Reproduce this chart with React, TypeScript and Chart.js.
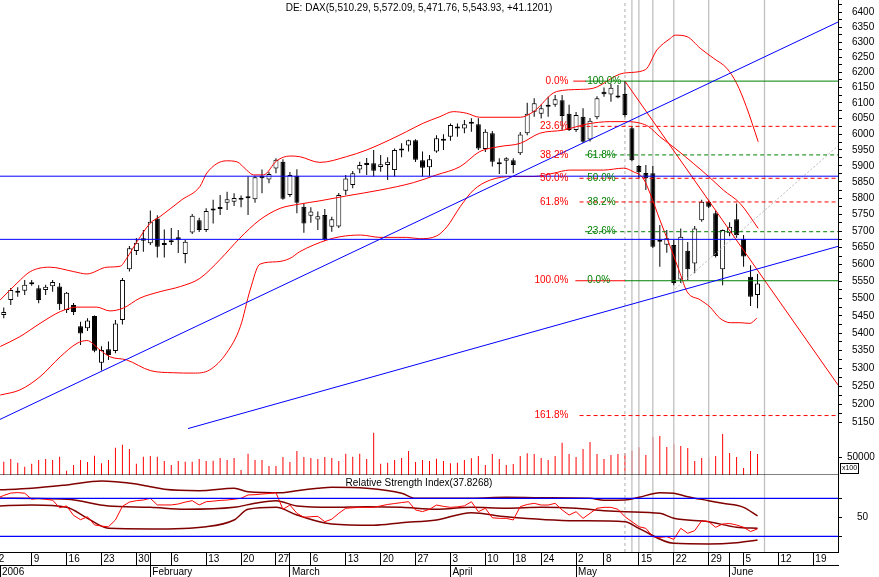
import React, { useEffect, useRef } from 'react';
import { Chart, registerables } from 'chart.js';

Chart.register(...registerables);

const FONT = '"Liberation Sans", Arial, sans-serif';
const X_MIN = 0.46;
const X_MAX = 120.53;

const TITLE = 'DE: DAX(5,510.29, 5,572.09, 5,471.76, 5,543.93, +41.1201)';
const RSI_TITLE = 'Relative Strength Index(37.8268)';

// trading day index 0 = 2 Jan 2006 ... 109 = 7 Jun 2006
const openP = [5410,5452,5496,5522,5523,5546,5530,5525,5536,5535, 5467,5481,5420,5414,5449,5316,5354,5349,5438,5586, 5640,5678,5663,5738,5663,5670,5681,5631,5696,5733, 5703,5762,5770,5786,5789,5797,5805,5797,5869,5858, 5892,5913,5810,5869,5774,5746,5735,5749,5713,5714, 5823,5841,5889,5908,5908,5897,5903,5887,5948,5964, 5981,5918,5896,5945,5982,5992,6021,6018,6033,6032, 5953,6003,5908,5916,5918,5940,6003,6072,6065,6094, 6094,6109,6065,6013,6056,5983,6054,6136,6127,6121, 6129,6019,5900,5878,5877,5673,5659,5658,5556,5641, 5603,5733,5789,5754,5586,5693,5736,5676,5564,5510.29];
const highP = [5455,5474,5531,5533,5554,5554,5539,5540,5554,5545, 5519,5487,5433,5443,5451,5363,5376,5438,5560,5655, 5679,5703,5762,5748,5705,5709,5703,5673,5752,5740, 5769,5795,5810,5820,5815,5808,5867,5869,5889,5882, 5924,5921,5881,5890,5784,5772,5759,5767,5743,5816, 5872,5884,5913,5925,5950,5934,5927,5955,5971,5982, 5984,5945,5934,5997,6000,6034,6034,6045,6051,6051, 6016,6010,5924,5927,5924,6007,6101,6115,6094,6120, 6126,6126,6094,6071,6083,6052,6122,6150,6162,6158, 6171,6026,5903,5903,5900,5718,5703,5673,5708,5667, 5715,5795,5795,5762,5705,5727,5784,5688,5598,5572.09];
const lowP = [5400,5443,5481,5505,5510,5537,5486,5510,5520,5467, 5458,5452,5366,5406,5346,5294,5324,5343,5425,5579, 5628,5638,5658,5621,5621,5658,5634,5604,5691,5697, 5697,5723,5749,5764,5776,5772,5749,5786,5815,5846, 5877,5795,5804,5754,5695,5725,5703,5670,5698,5709, 5810,5831,5877,5872,5867,5882,5856,5867,5927,5945, 5912,5867,5869,5941,5950,5979,5992,6003,6008,5950, 5944,5898,5875,5875,5877,5934,5997,6056,6050,6056, 6088,6013,6010,6007,5972,5977,6048,6120,6104,6115, 6054,5915,5862,5825,5649,5593,5635,5539,5545,5554, 5574,5728,5770,5621,5539,5684,5680,5593,5478,5471.76];
const closeP = [5450,5461,5525,5517,5540,5542,5496,5534,5548,5483, 5517,5461,5399,5436,5350,5352,5338,5428,5554,5648, 5665,5671,5728,5653,5658,5666,5673,5668,5746,5703, 5761,5766,5767,5797,5801,5795,5800,5865,5862,5875, 5919,5798,5872,5786,5723,5759,5745,5675,5736,5810, 5861,5877,5903,5903,5885,5905,5913,5950,5953,5981, 5919,5894,5921,5987,5979,6029,6018,6032,6037,5955, 6008,5913,5905,5924,5903,5999,6065,6099,6083,6088, 6112,6058,6013,6061,5976,6043,6115,6128,6149,6118, 6061,5918,5880,5862,5653,5668,5678,5545,5683,5586, 5708,5789,5774,5625,5703,5713,5688,5624,5505,5543.93];
const volume = [40000,38500,46200,35600,24100,32700,43300,46200,43300,53000, 12500,28900,43300,37600,55900,33700,43300,79000,87600,75100, 32700,53000,54900,53000,40400,28900,40400,38500,38500,46200, 40400,41400,49100,43300,49100,14400,61600,43300,43300,26000, 26000,52000,37600,69300,52000,49100,46200,52000,49100,40400, 61600,53000,61600,46200,122300,32700,35600,43300,49100,69300, 37600,43300,40400,47200,40400,33700,35600,43300,48200,54900, 28900,60700,46200,28900,31800,54900,62600,60700,49100,43300, 54900,93400,60700,52000,75100,95300,60700,46200,57800,60700, 62600,70000,80000,57800,110000,112700,80900,90000,83800,78000, 40400,49100,50000,54900,118400,63600,52000,20200,69300,60700];
const rsiValues = [70,73,75.5,76,75.3,69,70,69,68,60, 62,52,47.5,50.6,42,40.8,40,47.2,61.5,66, 67.5,68.2,70,63,63,63,64,66,67.5,63, 66.4,67,67.8,68.2,69,70,73.5,73.8,74.5,75, 75.9,58.4,62.9,54.2,50,50.6,51,45.4,48,54.2, 59.5,60,60.5,60.5,60.5,62,63.5,64.5,65.5,66.4, 57.7,56,58.4,62.9,61.5,60.5,61,62,66.4,55.9, 59.5,49.5,48.9,48.9,47.2,61.2,63.5,64.7,62.9,62.9, 64.7,57.7,52.4,55.9,48.9,54.2,59.5,60.5,60.5,58.4, 50.6,45.4,40.1,38.4,29.6,28.9,29.6,26.8,38.4,33.2, 36,46.4,45.4,39.5,42.9,43.5,41.9,39.5,35,37.83];

// Bollinger bands on price (read at sampled day positions)
const bbUpperDay = [0.5,2.9,4.8,7.6,11,12.9,15.8,17.7,18.6,20.1,22,23.4,26.5,29.1,30.1,32.9,34.4,35.8,36.8,38.2,40.1,42,43.4,46.3,50.1,53,56.3,58.7,61.1,63.5,65.4,67.3,69.2,75,76.9,80.2,83.6,85.5,89.8,92.9,94.6,96.5,97.2,98.9,100.8,102.7,104.6,106,107.4,109.1];
const bbUpper = [5496,5545,5579,5592,5579,5572,5592,5595,5618,5668,5724,5744,5795,5836,5878,5916,5913,5887,5872,5872,5916,5931,5929,5911,5929,5950,5982,6008,6035,6056,6072,6067,6054,6054,6072,6137,6144,6148,6197,6208,6274,6312,6323,6318,6279,6246,6213,6164,6088,5976];
const bbMidDay = [0.5,3.3,6.2,9.1,11.5,14.3,16.2,18.1,20.5,23.4,26.3,29.1,32,34.8,37.7,40.6,43.4,46.3,50.1,54.9,59.7,63,66.4,69.2,72.1,75,77.8,81.2,84.5,87.9,90.3,92.2,93.4,95,97.2,99.8,102,104.1,106.5,109.1];
const bbMid = [5362,5390,5428,5462,5475,5475,5464,5472,5501,5520,5535,5559,5615,5678,5734,5769,5782,5792,5807,5825,5848,5872,5898,5945,5961,5971,6003,6013,6032,6040,6040,6035,6024,5992,5955,5908,5867,5825,5784,5708];
const bbLowerDay = [0.5,3.3,6.2,9.1,11.5,12.9,14.8,16.2,18.6,22,25.3,28.2,30.5,32.9,34.9,36.3,37.7,40.1,42,43.4,45.4,47.3,49.2,52.1,54.9,58.7,60.6,63,64.5,66.4,68.3,70.7,74,76.9,79.7,82.1,86.9,89.8,91.2,92.6,93.6,95,96.5,97.9,98.9,100.8,102.2,103.6,105.1,106.5,107.9,108.9];
const bbLower = [5226,5240,5277,5333,5371,5379,5352,5333,5324,5294,5288,5287,5296,5343,5419,5525,5601,5608,5618,5638,5658,5673,5683,5688,5681,5681,5677,5685,5713,5774,5825,5856,5867,5867,5877,5887,5887,5893,5882,5862,5815,5734,5653,5574,5520,5496,5475,5443,5430,5430,5428,5443];

// bands on the RSI
const rsiUpDay = [0,5,10,15,17,20,22,24,29,34,36,41,43,46,48,53,58,60,64,68,73,78,85,87,90,92,95,97,99,102,104,107,109];
const rsiUp = [78.7,80.5,84,88.2,87.5,85,82.2,79.5,78,80.5,76.9,75.9,78,80.5,81.6,80.5,75.3,70,70,70,71,70.6,70,67.9,68.2,71,75.9,75.3,71.7,67.5,64.7,60.5,51.4];
const rsiMidDay = [0,10,16,22,27,34,37,40,43,48,53,58,63,68,73,78,83,87,90,95,97,102,106,109];
const rsiMid = [70,68.9,61.9,60.5,58.4,60.5,64.7,67.5,61.9,60.5,61.2,60.5,58.4,60.5,59.5,60.5,59.5,57,55.9,54.2,48.9,45.4,39.5,38.4];
const rsiLowDay = [0,5,10,13,16,22,30,34,36,40,43,48,54,58,63,68,73,83,90,92,97,102,106,109];
const rsiLow = [61.9,62.9,60.5,48.9,38.4,37.7,40.1,47.2,58.4,60.5,52.4,42.9,41.6,44.3,47.2,54.8,50.6,46.4,45.4,38.4,22.6,21.9,23.3,26.1];
const rsiLevels = [70, 30];

// Fibonacci levels
const redFibLabels = ['0.0%', '23.6%', '38.2%', '50.0%', '61.8%', '100.0%', '161.8%'];
const redFibValues = [6171, 6025, 5934.5, 5861.5, 5788.5, 5552, 5169.5];
const greenFibLabels = ['100.0%', '61.8%', '50.0%', '38.2%', '23.6%', '0.0%'];
const greenFibValues = [6171, 5934.5, 5861.5, 5788.5, 5698, 5552];
const redDashedLevels = [6025, 5861.5, 5788.5, 5169.5];
const greenDashedLevels = [5934.5, 5698];
const fibTimeDays = [90, 91, 92, 94, 97, 102, 110];

// trend lines (day, price)
const blueTrend1 = [[X_MIN, 5159], [X_MAX, 6367]];
const blueTrend2 = [[27.4, 5134], [X_MAX, 5654]];
const blueLevels = [5868, 5675];
const redTrend = [[90, 6171], [X_MAX, 5254]];
const grayTrend = [[97.2, 5528], [X_MAX, 5963]];

// axes labels
const priceLabels = [5150,5200,5250,5300,5350,5400,5450,5500,5550,5600,5650,5700,5750,5800,5850,5900,5950,6000,6050,6100,6150,6200,6250,6300,6350,6400];
const dayTickDays = [0,5,10,15,20,22,25,30,35,40,42,45,50,55,60,65,70,74,78,83,87,92,97,102,105,107,112,117];
const dayTickLabels = ['2','9','16','23','30','','6','13','20','27','','6','13','20','27','3','10','18','24','2','8','15','22','29','','5','12','19'];
const monthTickDays = [X_MIN, 22, 42, 65, 83, 105];
const monthLabels = ['2006', 'February', 'March', 'April', 'May', 'June'];

const pts = (xs: number[], ys: number[]) => xs.map((x, k) => ({ x, y: ys[k] }));
const seg = (a: number[][]) => a.map(([x, y]) => ({ x, y }));
const hline = (x0: number, x1: number, v: number) => [{ x: x0, y: v }, { x: x1, y: v }];

function lineDs(data: any[], color: string, width: number, yAxisID: string, order: number, extra: any = {}) {
  return {
    type: 'line', data, borderColor: color, borderWidth: width, pointRadius: 0, pointHoverRadius: 0,
    fill: false, yAxisID, order, tension: 0, ...extra,
  };
}

const textPlugin = {
  id: 'chartTexts',
  afterDatasetsDraw(chart: any) {
    const { ctx, scales, chartArea } = chart;
    const x = scales.x;
    const y = scales.y;
    ctx.save();
    ctx.font = `10px ${FONT}`;
    ctx.textBaseline = 'middle';
    ctx.fillStyle = '#ff0000';
    ctx.textAlign = 'right';
    redFibLabels.forEach((t, k) => ctx.fillText(t, x.getPixelForValue(81.9), y.getPixelForValue(redFibValues[k])));
    ctx.fillStyle = '#008000';
    ctx.textAlign = 'left';
    greenFibLabels.forEach((t, k) => ctx.fillText(t, x.getPixelForValue(84.6), y.getPixelForValue(greenFibValues[k])));
    ctx.fillStyle = '#000';
    ctx.textAlign = 'center';
    const cx = (chartArea.left + chartArea.right) / 2;
    ctx.fillText(TITLE, cx, 8);
    ctx.fillText(RSI_TITLE, cx, scales.yRsi.top + 8);
    const v = scales.yVol;
    ctx.strokeStyle = '#000';
    ctx.lineWidth = 1;
    ctx.strokeRect(Math.round(v.left) + 2.5, Math.round(v.bottom) - 11.5, 18, 10);
    ctx.font = `7px ${FONT}`;
    ctx.fillText('x100', Math.round(v.left) + 11.5, Math.round(v.bottom) - 6.5);
    ctx.restore();
  },
};

export default function App() {
  const ref = useRef<HTMLCanvasElement>(null);
  useEffect(() => {
    document.body.style.margin = '0';
    const days = openP.map((_, i) => i);
    const datasets: any[] = [];

    // candles
    datasets.push({
      type: 'bar', yAxisID: 'y', order: 5, grouped: false, barThickness: 5, minBarLength: 2,
      data: days.map(i => ({ x: i, y: [Math.min(openP[i], closeP[i]), Math.max(openP[i], closeP[i])] })),
      backgroundColor: days.map(i => (closeP[i] >= openP[i] ? '#ffffff' : '#000000')),
      borderColor: '#000', borderWidth: 1, borderSkipped: false, inflateAmount: 0,
    });
    datasets.push({
      type: 'bar', yAxisID: 'y', order: 6, grouped: false, barThickness: 1, minBarLength: 1,
      data: days.map(i => ({ x: i, y: [lowP[i], highP[i]] })),
      backgroundColor: '#000', borderWidth: 0, inflateAmount: 0,
    });
    // volume
    datasets.push({
      type: 'bar', yAxisID: 'yVol', order: 9, grouped: false, barThickness: 1,
      data: days.map(i => ({ x: i, y: volume[i] })), backgroundColor: '#ff0000', borderWidth: 0, inflateAmount: 0,
    });
    datasets.push(lineDs(hline(X_MIN, X_MAX, 0), '#000', 1, 'yVol', 1));

    // fib time zones
    fibTimeDays.forEach((d, k) => {
      datasets.push(lineDs([{ x: d, y: 0 }, { x: d, y: 1 }], '#c0c0c0', 1.3, 'yFull', 8, k === 0 ? { borderDash: [3, 3] } : {}));
    });

    // bollinger
    datasets.push(lineDs(pts(bbUpperDay, bbUpper), '#ff0000', 1, 'y', 4, { cubicInterpolationMode: 'monotone' }));
    datasets.push(lineDs(pts(bbMidDay, bbMid), '#ff0000', 1, 'y', 4, { cubicInterpolationMode: 'monotone' }));
    datasets.push(lineDs(pts(bbLowerDay, bbLower), '#ff0000', 1, 'y', 4, { cubicInterpolationMode: 'monotone' }));

    // trend lines
    datasets.push(lineDs(seg(redTrend), '#ff0000', 1, 'y', 3));
    datasets.push(lineDs(seg(grayTrend), '#b8b8b8', 1, 'y', 3, { borderDash: [2, 2] }));
    datasets.push(lineDs(seg(blueTrend1), '#0000ff', 1, 'y', 1));
    datasets.push(lineDs(seg(blueTrend2), '#0000ff', 1, 'y', 1));
    blueLevels.forEach(v => datasets.push(lineDs(hline(X_MIN, X_MAX, v), '#0000ff', 1, 'y', 1)));

    // fib retracement lines
    redDashedLevels.forEach(v => datasets.push(lineDs(hline(83.5, X_MAX, v), '#ff0000', 1, 'y', 2, { borderDash: [4, 3] })));
    greenDashedLevels.forEach(v => datasets.push(lineDs(hline(84.3, X_MAX, v), '#008000', 1, 'y', 2, { borderDash: [4, 3] })));
    datasets.push(lineDs(hline(82.6, 84.4, redFibValues[0]), '#ff0000', 1, 'y', 2));
    datasets.push(lineDs(hline(84.3, X_MAX, greenFibValues[0]), '#008000', 1, 'y', 2));
    datasets.push(lineDs(hline(82.9, 90, redFibValues[5]), '#ff0000', 1, 'y', 2));
    datasets.push(lineDs(hline(90, X_MAX, greenFibValues[5]), '#008000', 1, 'y', 2));

    // RSI panel
    datasets.push(lineDs(pts(rsiUpDay, rsiUp), '#800000', 1.5, 'yRsi', 3, { cubicInterpolationMode: 'monotone' }));
    datasets.push(lineDs(pts(rsiMidDay, rsiMid), '#800000', 1.5, 'yRsi', 3, { cubicInterpolationMode: 'monotone' }));
    datasets.push(lineDs(pts(rsiLowDay, rsiLow), '#800000', 1.5, 'yRsi', 3, { cubicInterpolationMode: 'monotone' }));
    datasets.push(lineDs(days.map(i => ({ x: i, y: rsiValues[i] })), '#ff0000', 1, 'yRsi', 2));
    rsiLevels.forEach(v => datasets.push(lineDs(hline(X_MIN, X_MAX, v), '#0000ff', 1.2, 'yRsi', 1)));

    const tickFont = { size: 10, family: FONT };
    const chart = new Chart(ref.current as HTMLCanvasElement, {
      type: 'bar',
      data: { datasets },
      plugins: [textPlugin],
      options: {
        responsive: false,
        animation: false,
        devicePixelRatio: 1,
        events: [],
        layout: { padding: 0 },
        plugins: { legend: { display: false }, tooltip: { enabled: false }, title: { display: false } },
        scales: {
          x: {
            type: 'linear', position: 'bottom', weight: 0, min: X_MIN, max: X_MAX, offset: false, bounds: 'data',
            afterBuildTicks: (s: any) => { s.ticks = dayTickDays.map(v => ({ value: v })); },
            ticks: {
              autoSkip: false, maxRotation: 0, minRotation: 0, align: 'start', padding: -12, labelOffset: 2,
              font: tickFont, color: '#000', callback: (_v: any, idx: number) => dayTickLabels[idx],
            },
            grid: { display: true, drawOnChartArea: false, drawTicks: true, tickLength: 13, color: '#000', lineWidth: 1, offset: false },
            border: { display: true, color: '#000', width: 1 },
            afterFit: (s: any) => { s.height = 13; s.paddingLeft = 0; s.paddingRight = 0; },
          },
          x2: {
            type: 'linear', position: 'bottom', weight: 1, min: X_MIN, max: X_MAX, offset: false, bounds: 'data',
            afterBuildTicks: (s: any) => { s.ticks = monthTickDays.map(v => ({ value: v })); },
            ticks: {
              autoSkip: false, maxRotation: 0, minRotation: 0, align: 'start', padding: -11, labelOffset: 2,
              font: tickFont, color: '#000', callback: (_v: any, idx: number) => monthLabels[idx],
            },
            grid: { display: true, drawOnChartArea: false, drawTicks: true, tickLength: 12, color: '#000', lineWidth: 1, offset: false },
            border: { display: true, color: '#000', width: 1 },
            afterFit: (s: any) => { s.height = 12; s.paddingLeft = 0; s.paddingRight = 0; },
          },
          y: {
            type: 'logarithmic', position: 'right', stack: 'r', stackWeight: 430, weight: 0,
            min: 5130.1, max: 6441.8, bounds: 'data',
            afterBuildTicks: (s: any) => {
              const t: any[] = [];
              priceLabels.forEach(v => { t.push({ value: v }); t.push({ value: v + 25 }); });
              s.ticks = t;
            },
            ticks: {
              autoSkip: false, padding: 10, font: tickFont, color: '#000',
              callback: (v: any) => (priceLabels.includes(Number(v)) ? String(v) : ''),
            },
            grid: { display: true, drawOnChartArea: false, drawTicks: true, tickLength: 4, color: '#000' },
            border: { display: true, color: '#000', width: 1 },
            afterFit: (s: any) => { s.width = 41; s.paddingTop = 0; s.paddingBottom = 0; },
          },
          yVol: {
            type: 'linear', position: 'right', stack: 'r', stackWeight: 45, weight: 1,
            min: 0, max: 130058, bounds: 'data',
            afterBuildTicks: (s: any) => { s.ticks = [{ value: 50000 }]; },
            ticks: { autoSkip: false, padding: 5, font: tickFont, color: '#000', callback: (v: any) => String(v) },
            grid: { display: true, drawOnChartArea: false, drawTicks: true, tickLength: 4, color: '#000' },
            border: { display: true, color: '#000', width: 1 },
            afterFit: (s: any) => { s.width = 41; s.paddingTop = 0; s.paddingBottom = 0; },
          },
          yRsi: {
            type: 'linear', position: 'right', stack: 'r', stackWeight: 77, weight: 2,
            min: 13.5, max: 94.5, bounds: 'data',
            afterBuildTicks: (s: any) => { s.ticks = [{ value: 30 }, { value: 50 }, { value: 70 }]; },
            ticks: { autoSkip: false, padding: 15, font: tickFont, color: '#000', callback: (v: any) => (Number(v) === 50 ? '50' : '') },
            grid: { display: true, drawOnChartArea: false, drawTicks: true, tickLength: 4, color: '#000' },
            border: { display: true, color: '#000', width: 1 },
            afterFit: (s: any) => { s.width = 41; s.paddingTop = 0; s.paddingBottom = 0; },
          },
          yFull: {
            type: 'linear', position: 'right', display: false, weight: 5, min: 0, max: 1, bounds: 'data',
          },
        },
      } as any,
    } as any);
    return () => chart.destroy();
  }, []);
  return (
    <canvas ref={ref} width={879} height={577} style={{ display: 'block', width: '879px', height: '577px' }} />
  );
}
